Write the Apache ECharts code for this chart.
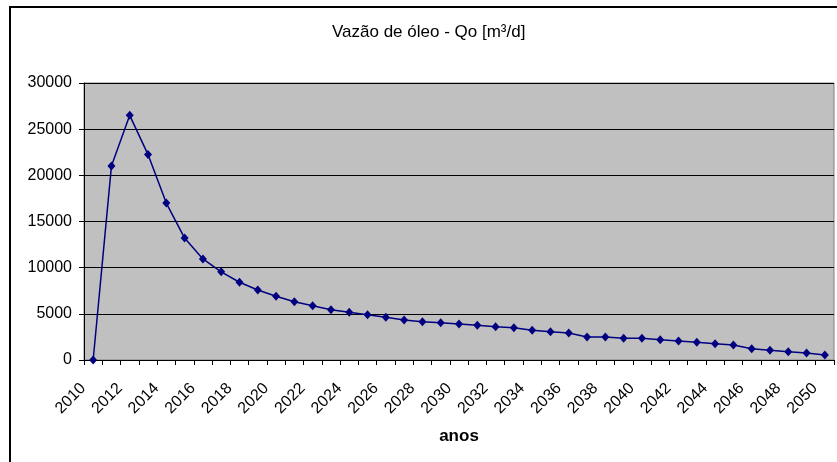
<!DOCTYPE html>
<html>
<head>
<meta charset="utf-8">
<script src="https://cdn.jsdelivr.net/npm/echarts@6/dist/echarts.min.js"></script>
<style>
  html, body { margin: 0; padding: 0; background: #ffffff; }
  #main { width: 837px; height: 462px; }
</style>
</head>
<body>
<div id="main"></div>
<script>
// anos 2010 - 2050
const anos = [
  '2010', '2011', '2012', '2013', '2014', '2015', '2016', '2017', '2018', '2019',
  '2020', '2021', '2022', '2023', '2024', '2025', '2026', '2027', '2028', '2029',
  '2030', '2031', '2032', '2033', '2034', '2035', '2036', '2037', '2038', '2039',
  '2040', '2041', '2042', '2043', '2044', '2045', '2046', '2047', '2048', '2049',
  '2050'
];

// vazão de óleo Qo [m³/d]
const vazaoOleo = [
  0, 21000, 26500, 22250, 17000, 13200, 10950, 9550, 8420, 7580,
  6900, 6310, 5880, 5450, 5160, 4910, 4620, 4330, 4150, 4040,
  3900, 3760, 3610, 3500, 3210, 3070, 2920, 2490, 2490, 2350,
  2350, 2200, 2060, 1910, 1770, 1620, 1230, 1050, 900, 760,
  540
];

const yTicks = [0, 5000, 10000, 15000, 20000, 25000, 30000];

const chart = echarts.init(document.getElementById('main'), null, { renderer: 'canvas' });

const fonte = 'Liberation Sans, Arial, sans-serif';

const option = {
  backgroundColor: '#ffffff',
  animation: false,
  title: {
    text: 'Vazão de óleo - Qo [m³/d]',
    left: 327,
    top: 19,
    textStyle: {
      fontFamily: fonte,
      fontSize: 17,
      fontWeight: 'normal',
      color: '#000000'
    }
  },
  graphic: [{
    type: 'rect',
    shape: { x: 10, y: 7, width: 900, height: 600 },
    style: { fill: 'none', stroke: '#000000', lineWidth: 2 },
    silent: true
  }],
  grid: {
    left: 84,
    right: 3,
    top: 83,
    bottom: 102,
    show: true,
    backgroundColor: '#C0C0C0',
    borderColor: '#808080',
    borderWidth: 1
  },
  xAxis: {
    type: 'category',
    data: anos,
    boundaryGap: true,
    name: 'anos',
    nameLocation: 'middle',
    nameGap: 68,
    nameTextStyle: {
      fontFamily: fonte,
      fontSize: 17,
      fontWeight: 'bold',
      color: '#000000'
    },
    axisLine: { lineStyle: { color: '#000000', width: 1 } },
    axisTick: { show: true, interval: 0, length: 5, lineStyle: { color: '#000000' } },
    axisLabel: {
      interval: 1,
      rotate: 45,
      margin: 16,
      padding: [0, 14, 0, 0],
      fontFamily: fonte,
      fontSize: 16,
      color: '#000000'
    },
    splitLine: { show: false }
  },
  yAxis: {
    type: 'value',
    min: yTicks[0],
    max: yTicks[yTicks.length - 1],
    interval: 5000,
    axisLine: { show: true, lineStyle: { color: '#000000', width: 1 } },
    axisTick: { show: true, length: 5, lineStyle: { color: '#000000' } },
    axisLabel: {
      margin: 12,
      formatter: function (v) { return String(v); },
      fontFamily: fonte,
      fontSize: 16,
      color: '#000000'
    },
    splitLine: { show: true, lineStyle: { color: '#000000', width: 1 } }
  },
  series: [{
    name: 'Qo',
    type: 'line',
    data: vazaoOleo,
    symbol: 'diamond',
    symbolSize: [8, 9],
    showAllSymbol: true,
    lineStyle: { color: '#000080', width: 1.5 },
    itemStyle: { color: '#000080' }
  }]
};

chart.setOption(option);
</script>
</body>
</html>
